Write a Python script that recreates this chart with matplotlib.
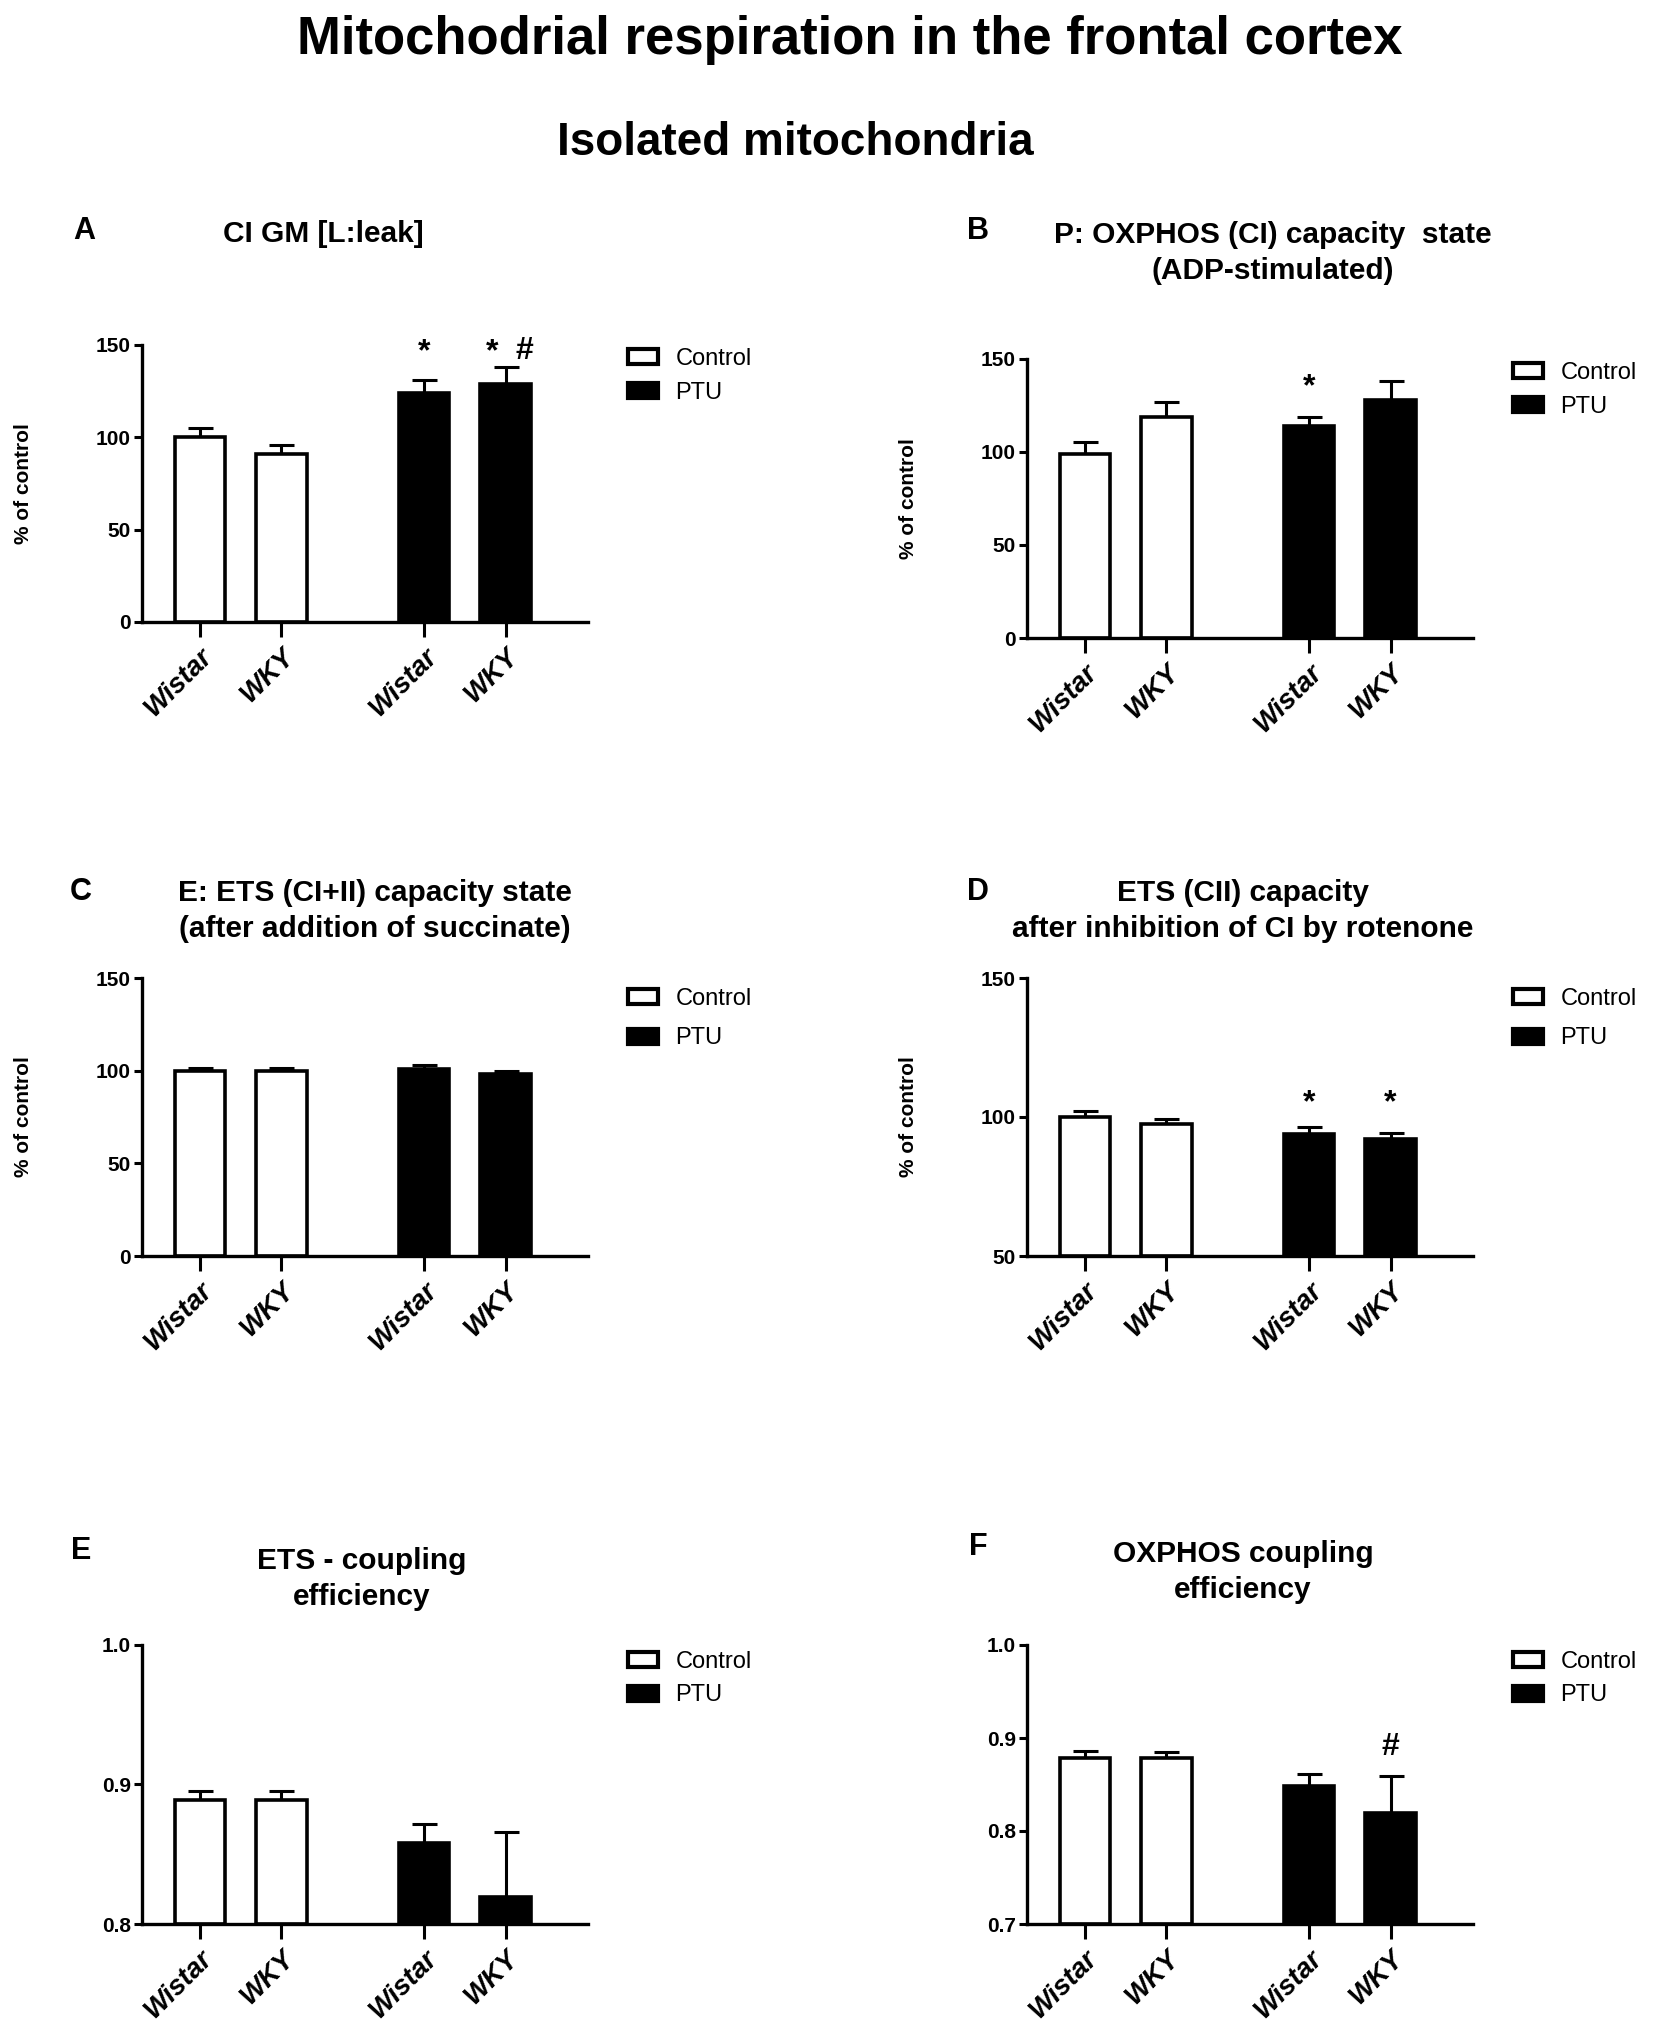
import matplotlib
matplotlib.use("Agg")
import matplotlib.pyplot as plt
from matplotlib.patches import Patch
import numpy as np

plt.rcParams['font.family'] = ['Liberation Sans', 'DejaVu Sans']

# ---------------- data ----------------
groups = ["Control", "PTU"]
strains = ["Wistar", "WKY", "Wistar", "WKY"]

a_means = [100, 91, 124, 129]
a_err = [5, 5, 7, 9]
b_means = [99, 119, 114, 128]
b_err = [6.5, 8, 5, 10]
c_means = [100, 100, 100.7, 98]
c_err = [1.4, 1.4, 2.3, 2.0]
d_means = [100, 97.5, 93.8, 92]
d_err = [2.2, 1.9, 2.7, 2.4]
e_means = [0.889, 0.889, 0.858, 0.819]
e_err = [0.006, 0.006, 0.014, 0.047]
f_means = [0.879, 0.879, 0.848, 0.819]
f_err = [0.007, 0.006, 0.013, 0.040]

a_ticks = [0, 50, 100, 150]
b_ticks = [0, 50, 100, 150]
c_ticks = [0, 50, 100, 150]
d_ticks = [50, 100, 150]
e_ticks = [0.8, 0.9, 1.0]
f_ticks = [0.7, 0.8, 0.9, 1.0]

# annotations: (text, bar index, x offset, y value)
a_marks = [("*", 2, 0.0, 146), ("*", 3, -0.17, 146), ("#", 3, 0.23, 147)]
b_marks = [("*", 2, 0.0, 135)]
c_marks = []
d_marks = [("*", 2, 0.0, 105), ("*", 3, 0.0, 105)]
e_marks = []
f_marks = [("#", 3, 0.0, 0.890)]

titles = {
    "A": "CI GM [L:leak]",
    "B": "P: OXPHOS (CI) capacity  state\n(ADP-stimulated)",
    "C": "E: ETS (CI+II) capacity state\n(after addition of succinate)",
    "D": "ETS (CII) capacity\nafter inhibition of CI by rotenone",
    "E": "ETS - coupling\nefficiency",
    "F": "OXPHOS coupling\nefficiency",
}

W, H = 1654, 2027
fig = plt.figure(figsize=(W / 100, H / 100), dpi=100)

def fx(px):
    return px / W

def fy(py):
    return 1 - py / H

# main titles
fig.text(fx(850), fy(40), "Mitochodrial respiration in the frontal cortex",
         ha="center", va="center", fontsize=38, fontweight="bold")
fig.text(fx(795), fy(143), "Isolated mitochondria",
         ha="center", va="center", fontsize=33, fontweight="bold")

positions = np.array([0, 1, 2.75, 3.75])
bar_w = 0.62
colors = ["white", "white", "black", "black"]

def panel(rect_px, means, err, ticks, ylim, marks, ylabel, fmt, lspace, legy):
    l, r, t, b = rect_px
    ax = fig.add_axes([fx(l), fy(b), fx(r - l), (b - t) / H])
    base = ylim[0]
    ax.bar(positions, np.array(means) - base, bottom=base, width=bar_w,
           color=colors, edgecolor="black", linewidth=2.6, zorder=3)
    ax.errorbar(positions, means, yerr=[np.zeros(4), err], fmt="none",
                ecolor="black", elinewidth=2.2, capsize=9, capthick=2.2, zorder=2)
    ax.set_xlim(-0.71, 4.76)
    ax.set_ylim(*ylim)
    ax.set_yticks(ticks)
    ax.set_yticklabels([fmt(v) for v in ticks], fontsize=15, fontweight="bold")
    ax.set_xticks(positions)
    ax.set_xticklabels(strains, rotation=45, ha="right", rotation_mode="anchor",
                       fontsize=20, fontweight="bold", fontstyle="italic")
    for s in ["top", "right"]:
        ax.spines[s].set_visible(False)
    for s in ["left", "bottom"]:
        ax.spines[s].set_linewidth(2.4)
    ax.tick_params(axis="y", direction="out", length=6, width=2.2, pad=2)
    ax.tick_params(axis="x", direction="out", length=11, width=2.2, pad=4)
    ax.spines["left"].set_zorder(5)
    ax.spines["bottom"].set_zorder(5)
    if ylabel:
        ax.set_ylabel("% of control", fontsize=15, fontweight="bold")
        ax.yaxis.set_label_coords(-0.245, 0.5)
    for txt, i, dx, yv in marks:
        ax.text(positions[i] + dx, yv, txt, ha="center", va="center",
                fontsize=23, fontweight="bold")
    handles = [Patch(facecolor="white", edgecolor="black", linewidth=3),
               Patch(facecolor="black", edgecolor="black", linewidth=3)]
    ax.legend(handles, groups, loc="upper left", bbox_to_anchor=(1.09, legy),
              frameon=False, fontsize=17, handlelength=1.25, handleheight=0.6,
              handletextpad=0.75, labelspacing=lspace, borderpad=0, borderaxespad=0)
    return ax

f0 = lambda v: f"{v:g}"
f1 = lambda v: f"{v:.1f}"

panel((142, 588, 345, 622), a_means, a_err, a_ticks, (0, 150), a_marks, True, f0, 0.5, 0.99)
panel((1027, 1473, 359, 638), b_means, b_err, b_ticks, (0, 150), b_marks, True, f0, 0.5, 0.99)
panel((142, 588, 978, 1256), c_means, c_err, c_ticks, (0, 150), c_marks, True, f0, 0.75, 0.965)
panel((1027, 1473, 978, 1256), d_means, d_err, d_ticks, (50, 150), d_marks, True, f0, 0.75, 0.965)
panel((142, 588, 1645, 1924), e_means, e_err, e_ticks, (0.8, 1.0), e_marks, False, f1, 0.5, 0.98)
panel((1027, 1473, 1645, 1924), f_means, f_err, f_ticks, (0.7, 1.0), f_marks, False, f1, 0.5, 0.98)

# panel titles and letters
title_pos = {
    "A": ((84, 231), (323, 234)),
    "B": ((978, 231), (1273, 253)),
    "C": ((81, 892), (375, 911)),
    "D": ((978, 892), (1243, 911)),
    "E": ((81, 1551), (362, 1579)),
    "F": ((978, 1547), (1243, 1572)),
}
for key, ((lx, ly), (tx, ty)) in title_pos.items():
    fig.text(fx(lx), fy(ly), key, ha="center", va="center",
             fontsize=22, fontweight="bold")
    fig.text(fx(tx), fy(ty), titles[key], ha="center", va="center",
             fontsize=21.5, fontweight="bold", linespacing=1.38)

fig.savefig("out.png", dpi=100, facecolor="white")
